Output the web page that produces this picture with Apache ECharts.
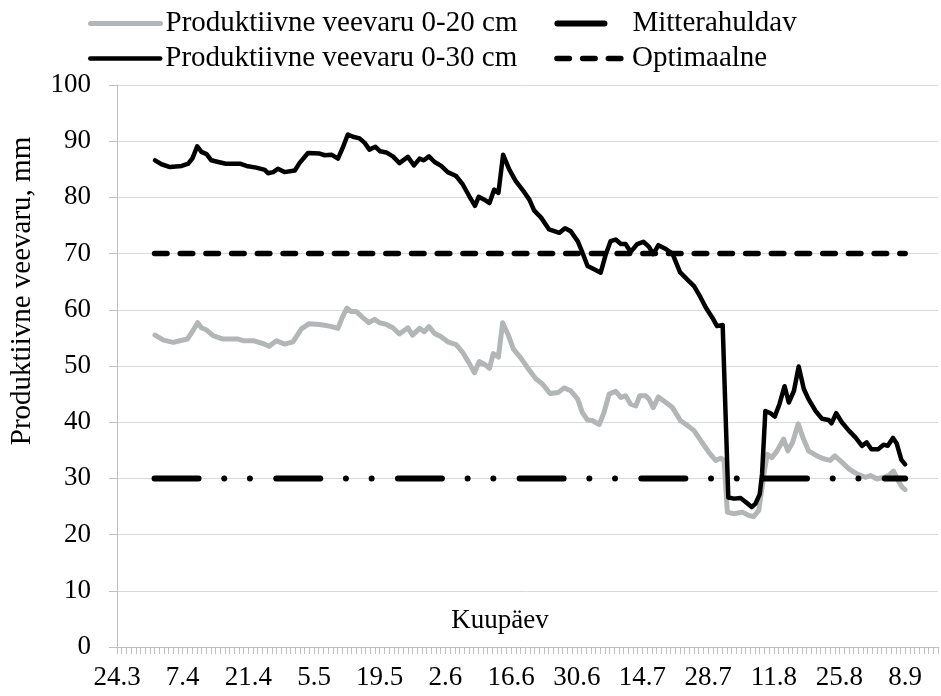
<!DOCTYPE html>
<html><head><meta charset="utf-8">
<script src="https://cdn.jsdelivr.net/npm/echarts@6/dist/echarts.min.js"></script>
<style>html,body{margin:0;padding:0;background:#fff}#c{width:941px;height:696px}</style>
</head><body><div id="c"></div>
<script>
// x = days since 24.3
const tickLabels = ['24.3','7.4','21.4','5.5','19.5','2.6','16.6','30.6','14.7','28.7','11.8','25.8','8.9'];

const days30 = [8.1,9.5,11.3,13.8,15.2,16.1,17.1,18.0,19.1,20.1,21.6,23.2,26.2,27.6,29.7,31.5,32.2,33.3,34.3,35.7,37.9,38.9,40.7,43.2,44.3,45.7,47.1,48.1,49.2,50.3,51.7,52.8,53.8,55.1,56.1,57.4,58.8,60.2,62.0,63.3,64.5,65.4,66.5,67.7,69.1,70.5,72.3,73.7,75.1,76.3,77.1,78.3,79.4,80.4,81.3,82.3,83.6,85.0,86.4,87.9,88.9,90.4,92.1,94.3,95.5,96.7,98.2,99.2,100.3,101.7,103.1,104.2,105.2,106.3,107.4,108.4,109.5,110.9,112.2,113.4,114.3,115.4,117.0,118.4,120.0,121.9,123.0,124.4,125.5,126.9,127.9,129.1,130.3,131.5,132.9,134.0,135.3,136.1,137.0,137.5,138.2,139.3,140.2,141.2,142.3,143.2,144.3,145.3,146.4,147.4,148.9,150.3,151.7,152.3,153.3,154.5,156.0,157.4,158.8,159.8,160.8,162.3,163.4,164.3,165.4,166.2,167.2,168.0];
const vals30 = [86.6,85.9,85.4,85.6,86.0,87.0,89.1,88.1,87.7,86.6,86.3,86.0,86.0,85.6,85.3,84.9,84.3,84.5,85.1,84.5,84.8,86.1,87.9,87.8,87.5,87.6,86.9,88.8,91.2,90.8,90.5,89.7,88.5,89.0,88.2,88.0,87.3,86.1,87.2,85.7,86.9,86.6,87.3,86.3,85.6,84.5,83.8,82.3,80.2,78.5,80.1,79.6,79.0,81.4,80.8,87.6,85.0,82.9,81.4,79.6,77.7,76.4,74.3,73.7,74.5,74.0,72.2,70.2,67.8,67.2,66.6,69.9,72.2,72.5,71.7,71.7,70.3,71.7,72.1,71.2,69.9,71.5,70.8,70.0,66.7,65.1,64.2,62.2,60.4,58.6,57.1,57.3,26.6,26.4,26.5,25.8,24.9,25.5,27.2,30.8,42.0,41.6,41.0,43.2,46.4,43.5,45.6,49.9,45.9,44.1,42.0,40.6,40.4,39.8,41.6,40.0,38.5,37.3,35.8,36.4,35.2,35.2,36.0,35.8,37.2,36.2,33.3,32.5];

const days20 = [8.1,9.9,12.0,13.4,15.0,16.2,17.2,18.0,19.1,20.5,22.6,25.8,26.9,29.0,31.1,32.4,34.0,35.7,37.5,39.3,40.9,43.2,45.3,47.1,48.0,49.0,49.9,51.0,52.4,53.7,54.9,56.0,57.4,58.8,60.2,62.0,63.0,64.5,65.5,66.5,67.7,69.1,70.5,72.3,73.7,75.0,76.2,77.2,78.3,79.4,80.2,81.3,82.2,83.3,84.5,86.1,87.5,89.3,90.7,92.3,94.1,95.3,96.7,98.2,99.2,100.3,101.3,102.8,103.8,104.9,106.3,107.4,108.4,109.5,110.6,111.4,112.7,113.4,114.3,115.4,117.0,118.4,120.1,121.6,123.0,124.7,126.2,127.6,128.7,129.4,130.1,131.5,133.3,134.7,135.7,136.8,137.9,138.6,139.6,140.7,142.1,143.0,144.0,145.2,146.2,147.4,149.2,150.6,152.0,153.0,154.5,156.0,157.7,159.5,160.6,162.0,163.4,164.5,165.5,166.5,167.4,168.0];
const vals20 = [55.5,54.6,54.2,54.5,54.8,56.3,57.7,56.8,56.4,55.4,54.8,54.8,54.5,54.5,54.0,53.5,54.5,53.9,54.3,56.6,57.5,57.4,57.1,56.7,58.6,60.3,59.7,59.7,58.6,57.7,58.3,57.7,57.4,56.8,55.7,56.8,55.5,56.7,56.1,57.0,55.8,55.2,54.3,53.8,52.4,50.6,48.8,50.8,50.3,49.6,52.2,51.6,57.7,55.7,53.0,51.4,49.7,47.7,46.8,45.1,45.3,46.1,45.6,44.1,41.7,40.4,40.3,39.6,41.7,45.0,45.5,44.4,44.7,43.2,42.9,44.7,44.7,44.1,42.6,44.5,43.5,42.6,40.3,39.4,38.5,36.4,34.6,33.2,33.6,33.2,24.0,23.7,24.0,23.4,23.2,24.3,30.8,34.3,33.7,34.9,37.0,34.9,36.4,39.7,37.3,34.9,34.0,33.5,33.2,34.0,32.9,31.7,30.8,30.2,30.5,29.9,30.2,30.5,31.3,29.6,28.4,28.0];

const refDays = [8, 168];
const mitterahuldav = [30, 30];
const optimaalne = [70, 70];

const names = ['Produktiivne veevaru 0-20 cm','Produktiivne veevaru 0-30 cm','Mitterahuldav','Optimaalne'];
const zip = (xs, ys) => xs.map((x, i) => [x, ys[i]]);
const FONT = "'Liberation Serif','Times New Roman',serif";
const GRAY = '#b3b6b6';

const chart = echarts.init(document.getElementById('c'));
const legendBase = {
  left: 83, itemWidth: 70, itemHeight: 14, itemGap: 37, selectedMode: false,
  textStyle: { fontFamily: FONT, fontSize: 29, color: '#000' },
  itemStyle: { opacity: 0 }
};
chart.setOption({
  animation: false,
  backgroundColor: '#fff',
  grid: { left: 117, right: 3, top: 85, bottom: 49, containLabel: false },
  legend: [
    Object.assign({}, legendBase, { top: 4, data: [
      { name: names[0], lineStyle: { color: GRAY, width: 5, cap: 'round', type: 'solid' } },
      { name: names[2], lineStyle: { color: '#000', width: 6, cap: 'round', type: [47, 100] } }
    ] }),
    Object.assign({}, legendBase, { top: 39, data: [
      { name: names[1], lineStyle: { color: '#000', width: 4.5, cap: 'round', type: 'solid' } },
      { name: names[3], lineStyle: { color: '#000', width: 5.5, cap: 'round', type: [12.5, 13.2] } }
    ] })
  ],
  xAxis: {
    type: 'value', min: 0, max: 175, interval: 1,
    axisLine: { show: true, lineStyle: { color: '#bfbfbf', width: 1 } },
    axisTick: { show: true, length: 7, lineStyle: { color: '#bfbfbf' } },
    splitLine: { show: false },
    axisLabel: {
      margin: 17, fontFamily: FONT, fontSize: 27, color: '#000',
      formatter: v => (v % 14 === 0 && tickLabels[v / 14] !== undefined) ? tickLabels[v / 14] : ''
    }
  },
  yAxis: {
    type: 'value', min: 0, max: 100, interval: 10,
    axisLine: { show: true, lineStyle: { color: '#bfbfbf', width: 1 } },
    axisTick: { show: true, length: 8, lineStyle: { color: '#bfbfbf' } },
    splitLine: { show: true, lineStyle: { color: '#d9d9d9', width: 1 } },
    axisLabel: { margin: 26, fontFamily: FONT, fontSize: 27, color: '#000' }
  },
  graphic: [
    { type: 'text', x: 22, y: 291, rotation: Math.PI / 2,
      style: { text: 'Produktiivne veevaru, mm', font: "29px 'Liberation Serif'", fill: '#000', align: 'center', verticalAlign: 'middle', textAlign: 'center', textVerticalAlign: 'middle' } },
    { type: 'text', x: 500, y: 621,
      style: { text: 'Kuupäev', font: "27px 'Liberation Serif'", fill: '#000', align: 'center', verticalAlign: 'middle', textAlign: 'center', textVerticalAlign: 'middle' } }
  ],
  series: [
    { name: names[0], type: 'line', symbol: 'none', data: zip(days20, vals20), z: 2,
      itemStyle: { color: GRAY }, lineStyle: { color: GRAY, width: 5, cap: 'round', join: 'round' } },
    { name: names[1], type: 'line', symbol: 'none', data: zip(days30, vals30), z: 3,
      itemStyle: { color: '#000' }, lineStyle: { color: '#000', width: 4.5, cap: 'round', join: 'round' } },
    { name: names[2], type: 'line', symbol: 'none', data: zip(refDays, mitterahuldav), z: 4,
      itemStyle: { color: '#000' }, lineStyle: { color: '#000', width: 6, cap: 'round', type: [44, 25.7, 0, 25.7, 0, 26.3] } },
    { name: names[3], type: 'line', symbol: 'none', data: zip(refDays, optimaalne), z: 5,
      itemStyle: { color: '#000' }, lineStyle: { color: '#000', width: 5.5, cap: 'round', type: [12.5, 13.2] } }
  ]
});
</script>
</body></html>
